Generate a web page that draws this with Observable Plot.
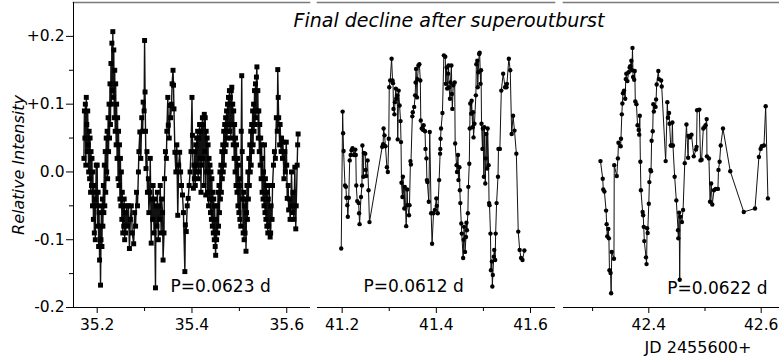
<!DOCTYPE html>
<html><head><meta charset="utf-8">
<script src="https://cdn.jsdelivr.net/npm/d3@7"></script>
<script src="https://cdn.jsdelivr.net/npm/@observablehq/plot@0.6"></script>
<style>
body{margin:0;background:#fff;}
#c{position:relative;width:779px;height:362px;overflow:hidden;font-family:"DejaVu Sans",Verdana,sans-serif;color:#000;}
#c svg{position:absolute;left:0;top:0;background:transparent;}
.t{position:absolute;white-space:nowrap;color:#000;transform:translate(-50%,-50%);}
</style></head><body><div id="c"></div>
<script>
// ---- data (JD - 2455600, relative intensity) ----
const panel1 = [
[35.172,0.02],[35.173,0.09],[35.174,0.05],[35.175,0.10],[35.176,0.01],[35.177,0.11],[35.178,0.07],[35.179,0.03],[35.180,0.09],[35.181,0.04],
[35.182,0.00],[35.183,0.06],[35.184,-0.01],[35.185,0.05],[35.186,-0.03],[35.187,0.03],[35.188,-0.02],[35.189,0.02],[35.190,-0.05],[35.191,0.00],
[35.192,-0.07],[35.193,-0.02],[35.194,-0.09],[35.195,-0.04],[35.196,-0.10],[35.197,-0.03],[35.198,0.01],[35.199,-0.05],[35.200,0.01],[35.201,-0.08],
[35.202,-0.03],[35.203,-0.11],[35.204,-0.06],[35.205,-0.13],[35.206,-0.08],[35.207,-0.167],[35.208,-0.10],[35.209,-0.05],[35.210,-0.11],[35.211,-0.04],
[35.212,-0.08],[35.213,-0.02],[35.214,-0.06],[35.215,0.01],[35.216,-0.05],[35.217,0.03],[35.218,-0.03],[35.219,0.05],[35.220,0.00],[35.221,0.06],
[35.222,-0.01],[35.223,0.08],[35.224,0.03],[35.225,0.10],[35.226,0.05],[35.227,0.13],[35.228,0.07],[35.229,0.16],[35.230,0.10],[35.231,0.19],
[35.232,0.12],[35.233,0.207],[35.234,0.11],[35.235,0.18],[35.236,0.08],[35.237,0.15],[35.238,0.06],[35.239,0.13],[35.240,0.04],[35.241,0.10],
[35.242,0.02],[35.243,0.08],[35.244,-0.01],[35.245,0.06],[35.246,-0.02],[35.247,0.04],[35.248,-0.04],[35.249,0.02],[35.250,-0.05],[35.251,0.00],
[35.252,-0.07],[35.253,-0.03],[35.254,-0.09],[35.255,-0.05],[35.256,-0.08],[35.257,-0.04],[35.258,-0.10],[35.259,-0.06],[35.260,-0.09],[35.262,-0.05],
[35.264,-0.08],[35.266,-0.05],[35.268,-0.113],[35.270,-0.07],[35.272,-0.05],[35.274,-0.09],[35.277,-0.106],[35.279,-0.06],[35.281,-0.08],[35.283,-0.03],
[35.285,-0.05],[35.287,0.00],[35.288,0.03],[35.290,0.059],[35.292,0.02],[35.294,0.08],[35.296,0.06],[35.297,0.103],[35.299,0.09],[35.300,0.194],
[35.301,0.118],[35.302,0.06],[35.303,0.005],[35.305,0.03],[35.306,-0.03],[35.308,-0.01],[35.309,-0.06],[35.311,-0.03],[35.312,0.02],[35.314,-0.105],
[35.315,-0.04],[35.317,-0.07],[35.318,-0.02],[35.320,-0.09],[35.321,-0.04],[35.323,-0.171],[35.324,-0.05],[35.326,-0.08],[35.327,-0.03],[35.329,-0.10],
[35.330,-0.05],[35.332,-0.07],[35.333,-0.02],[35.335,-0.09],[35.336,-0.04],[35.338,-0.06],[35.339,-0.13],[35.341,-0.09],[35.342,-0.01],[35.344,0.03],
[35.346,0.02],[35.347,0.06],[35.349,0.11],[35.350,0.069],[35.352,0.05],[35.354,0.098],[35.355,0.08],[35.357,0.10],[35.358,0.13],[35.360,0.15],
[35.361,0.128],[35.362,0.093],[35.364,0.029],[35.366,0.00],[35.368,0.04],[35.370,-0.064],[35.372,0.01],[35.374,0.029],[35.376,0.00],[35.378,-0.02],
[35.380,-0.034],[35.382,-0.06],[35.385,-0.147],[35.386,-0.078],[35.388,-0.088],[35.390,-0.05],[35.392,-0.039],[35.394,-0.02],[35.396,0.00],[35.398,0.03],
[35.400,0.11],[35.401,0.054],[35.403,-0.024],[35.404,0.01],[35.405,-0.01],[35.406,0.03],[35.407,-0.02],[35.408,0.04],[35.409,0.00],[35.410,0.05],
[35.411,0.01],[35.412,0.06],[35.413,-0.01],[35.414,0.05],[35.415,0.00],[35.416,0.07],[35.417,0.02],[35.418,0.06],[35.419,-0.03],[35.420,0.07],
[35.421,0.01],[35.422,0.08],[35.423,0.02],[35.424,0.07],[35.425,-0.02],[35.426,0.085],[35.427,0.03],[35.428,0.08],[35.429,-0.034],[35.430,0.06],
[35.431,0.00],[35.432,0.05],[35.433,-0.03],[35.434,0.04],[35.435,-0.05],[35.436,0.02],[35.437,-0.04],[35.438,0.01],[35.439,-0.06],[35.440,0.00],
[35.441,-0.07],[35.442,-0.01],[35.443,-0.08],[35.444,-0.03],[35.445,-0.09],[35.446,-0.04],[35.447,-0.10],[35.448,-0.05],[35.449,-0.11],[35.450,-0.123],
[35.451,-0.07],[35.452,-0.10],[35.453,-0.05],[35.454,-0.09],[35.455,-0.03],[35.456,-0.08],[35.457,-0.02],[35.458,-0.06],[35.459,0.00],[35.460,-0.04],
[35.461,0.01],[35.462,-0.03],[35.463,0.03],[35.464,-0.01],[35.465,0.04],[35.466,0.00],[35.467,0.06],[35.468,0.01],[35.469,0.07],[35.470,0.03],
[35.471,0.08],[35.472,0.04],[35.473,0.09],[35.474,0.05],[35.475,0.10],[35.476,0.06],[35.477,0.11],[35.478,0.07],[35.479,0.12],[35.480,0.06],
[35.481,0.11],[35.482,0.05],[35.483,0.12],[35.484,0.125],[35.485,0.07],[35.486,0.10],[35.487,0.04],[35.488,0.09],[35.489,0.02],[35.490,0.07],
[35.491,0.00],[35.492,0.05],[35.493,-0.02],[35.494,0.04],[35.495,-0.03],[35.496,0.02],[35.497,-0.05],[35.498,0.01],[35.499,-0.06],[35.500,-0.01],
[35.501,-0.07],[35.502,-0.02],[35.503,-0.08],[35.504,0.06],[35.505,0.142],[35.506,0.03],[35.507,-0.04],[35.508,-0.09],[35.509,-0.03],[35.510,-0.10],
[35.511,-0.05],[35.512,-0.09],[35.513,-0.04],[35.514,-0.117],[35.515,-0.06],[35.516,-0.02],[35.517,-0.07],[35.518,0.00],[35.519,-0.04],[35.520,0.02],
[35.521,-0.02],[35.522,0.04],[35.523,0.00],[35.524,0.06],[35.525,0.01],[35.526,0.07],[35.527,0.03],[35.528,0.09],[35.529,0.04],[35.530,0.10],
[35.531,0.06],[35.532,0.12],[35.533,0.07],[35.534,0.13],[35.535,0.08],[35.536,0.14],[35.537,0.155],[35.538,0.09],[35.539,0.12],[35.540,0.05],
[35.541,0.09],[35.542,0.03],[35.543,0.07],[35.544,0.01],[35.545,0.05],[35.546,-0.01],[35.547,0.04],[35.548,-0.03],[35.549,0.02],[35.550,-0.04],
[35.551,0.00],[35.552,-0.05],[35.553,0.04],[35.554,-0.06],[35.555,-0.01],[35.556,-0.07],[35.557,-0.02],[35.558,-0.08],[35.559,-0.03],[35.560,-0.09],
[35.561,-0.04],[35.562,-0.08],[35.563,-0.02],[35.565,-0.096],[35.566,-0.09],[35.567,-0.05],[35.569,-0.07],[35.570,-0.02],[35.572,0.01],[35.574,0.03],
[35.576,0.02],[35.578,0.08],[35.580,0.06],[35.581,0.151],[35.582,0.11],[35.583,0.08],[35.585,0.04],[35.586,0.07],[35.588,0.03],[35.589,0.05],
[35.591,0.02],[35.592,0.044],[35.594,-0.01],[35.596,0.03],[35.597,0.00],[35.599,0.044],[35.600,0.01],[35.601,-0.039],[35.603,-0.02],[35.604,-0.056],
[35.606,-0.04],[35.607,-0.07],[35.609,-0.05],[35.610,0.00],[35.612,-0.06],[35.613,-0.03],[35.615,-0.07],[35.617,0.007],[35.619,-0.084],[35.620,-0.05],
[35.622,0.01],[35.623,0.04],[35.624,0.056]
];
const panel2 = [
[41.198,-0.113],[41.201,0.089],[41.202,0.057],[41.203,0.031],[41.206,-0.020],[41.208,-0.022],[41.209,-0.038],[41.211,-0.049],[41.212,-0.066],[41.214,-0.038],
[41.216,0.017],[41.218,0.025],[41.220,0.032],[41.222,0.035],[41.225,0.025],[41.228,0.033],[41.229,0.025],[41.230,-0.020],[41.232,-0.043],[41.235,-0.046],
[41.236,-0.061],[41.237,-0.077],[41.240,-0.037],[41.242,-0.020],[41.243,0.039],[41.245,-0.007],[41.246,0.028],[41.249,0.027],[41.250,0.003],[41.251,-0.006],
[41.254,0.017],[41.256,-0.027],[41.258,-0.074],[41.285,0.037],[41.287,0.041],[41.288,0.064],[41.290,0.054],[41.292,0.038],[41.295,0.007],[41.297,0.000],
[41.299,0.049],[41.300,0.125],[41.302,0.135],[41.305,0.167],[41.307,0.135],[41.308,0.131],[41.309,0.093],[41.311,0.085],[41.312,0.103],[41.314,0.123],
[41.315,0.108],[41.317,0.113],[41.318,0.048],[41.320,0.120],[41.322,0.098],[41.324,0.075],[41.325,0.044],[41.326,-0.016],[41.328,-0.037],[41.329,-0.007],
[41.332,-0.054],[41.333,-0.022],[41.336,-0.080],[41.338,-0.026],[41.339,-0.049],[41.342,-0.064],[41.343,-0.049],[41.345,0.016],[41.346,0.011],[41.349,0.082],
[41.350,0.088],[41.353,0.096],[41.355,0.113],[41.356,0.132],[41.357,0.152],[41.359,0.110],[41.360,0.137],[41.362,0.157],[41.364,0.159],[41.366,0.135],
[41.367,0.076],[41.369,0.064],[41.372,0.062],[41.373,0.069],[41.376,0.060],[41.377,0.034],[41.379,0.020],[41.380,-0.012],[41.381,-0.015],[41.384,-0.044],
[41.386,0.059],[41.389,-0.061],[41.391,-0.106],[41.394,-0.061],[41.397,-0.056],[41.400,-0.039],[41.401,-0.050],[41.403,-0.061],[41.406,-0.012],[41.408,0.027],
[41.4085,0.034],[41.409,0.049],[41.410,0.064],[41.413,0.087],[41.416,0.172],[41.419,0.170],[41.420,0.130],[41.422,0.154],[41.423,0.123],[41.425,0.145],
[41.426,0.157],[41.427,0.125],[41.429,0.108],[41.430,0.132],[41.432,0.157],[41.433,0.115],[41.434,0.093],[41.436,0.128],[41.439,0.132],[41.440,0.042],
[41.443,0.010],[41.444,0.000],[41.446,0.025],[41.447,-0.012],[41.449,0.007],[41.450,-0.027],[41.451,-0.046],[41.453,-0.076],[41.454,-0.091],[41.457,-0.127],
[41.458,-0.100],[41.459,-0.081],[41.461,-0.118],[41.463,-0.096],[41.464,-0.075],[41.465,-0.086],[41.467,-0.061],[41.468,-0.022],[41.470,0.012],[41.471,0.064],
[41.472,0.101],[41.474,0.086],[41.475,0.105],[41.477,0.066],[41.478,0.088],[41.479,0.051],[41.481,0.071],[41.484,0.113],[41.485,0.159],[41.487,0.164],
[41.488,0.125],[41.489,0.147],[41.491,0.174],[41.492,0.176],[41.494,0.130],[41.495,0.150],[41.496,0.071],[41.498,0.034],[41.499,0.064],[41.501,-0.007],
[41.502,0.066],[41.504,-0.017],[41.505,0.020],[41.506,0.056],[41.508,0.005],[41.509,0.064],[41.511,0.010],[41.512,-0.046],[41.513,-0.049],[41.515,-0.091],
[41.516,-0.145],[41.518,-0.132],[41.519,-0.169],[41.520,-0.152],[41.522,-0.125],[41.523,-0.115],[41.525,-0.130],[41.526,-0.091],[41.528,-0.046],[41.531,-0.007],
[41.532,0.034],[41.535,0.034],[41.538,0.120],[41.542,0.145],[41.546,0.125],[41.549,0.125],[41.550,0.130],[41.554,0.167],[41.557,0.150],[41.560,0.056],
[41.563,0.083],[41.566,0.061],[41.570,0.027],[41.574,-0.088],[41.577,-0.115],[41.580,-0.127],[41.583,-0.130],[41.587,-0.116]
];
const panel3 = [
[42.314,0.016],[42.318,-0.010],[42.319,-0.026],[42.321,-0.029],[42.324,-0.057],[42.325,-0.077],[42.326,-0.095],[42.328,-0.084],[42.329,-0.098],[42.330,-0.145],
[42.332,-0.149],[42.333,-0.179],[42.334,-0.118],[42.338,-0.128],[42.3385,0.010],[42.343,-0.006],[42.345,0.020],[42.346,0.043],[42.350,0.038],[42.3505,0.049],
[42.352,0.085],[42.353,0.101],[42.354,0.116],[42.356,0.120],[42.358,0.108],[42.359,0.137],[42.360,0.145],[42.362,0.134],[42.364,0.147],[42.366,0.154],
[42.367,0.156],[42.369,0.164],[42.370,0.150],[42.371,0.183],[42.372,0.140],[42.374,0.136],[42.375,0.149],[42.376,0.104],[42.378,0.100],[42.380,0.069],
[42.382,0.062],[42.383,0.055],[42.384,0.083],[42.385,0.015],[42.386,-0.027],[42.389,-0.059],[42.390,-0.064],[42.391,-0.081],[42.392,-0.102],[42.395,-0.126],
[42.396,-0.136],[42.397,-0.083],[42.398,-0.090],[42.400,-0.047],[42.401,-0.015],[42.403,0.003],[42.404,0.001],[42.405,0.046],[42.407,0.060],[42.408,0.100],
[42.409,0.089],[42.412,0.096],[42.413,0.107],[42.414,0.129],[42.417,0.149],[42.418,0.137],[42.422,0.135],[42.423,0.126],[42.430,0.016],[42.433,0.103],
[42.434,0.080],[42.436,0.087],[42.437,0.071],[42.439,0.039],[42.441,0.039],[42.442,0.073],[42.443,0.039],[42.446,-0.007],[42.449,-0.042],[42.452,-0.086],
[42.4525,-0.098],[42.454,-0.060],[42.455,-0.159],[42.456,-0.066],[42.459,-0.074],[42.461,-0.056],[42.464,0.013],[42.467,0.070],[42.470,0.021],[42.4705,0.053],
[42.473,0.051],[42.476,0.055],[42.480,0.023],[42.484,0.033],[42.485,0.037],[42.486,0.091],[42.490,0.092],[42.492,0.017],[42.494,0.018],[42.497,0.064],
[42.499,0.066],[42.501,0.069],[42.503,0.078],[42.5035,0.023],[42.507,0.020],[42.509,-0.044],[42.511,-0.017],[42.513,-0.048],[42.516,-0.027],[42.519,-0.025],
[42.523,-0.025],[42.524,0.003],[42.526,0.015],[42.528,0.039],[42.532,0.064],[42.545,0.001],[42.569,-0.059],[42.589,-0.054],[42.596,0.022],[42.599,0.034],
[42.601,0.038],[42.605,0.039],[42.608,0.097],[42.612,-0.039]
];
const periods = ["P=0.0623 d", "P=0.0612 d", "P=0.0622 d"];
const xTicks = [[35.2, 35.4, 35.6], [41.2, 41.4, 41.6], [42.4, 42.6]];
const xMinor = [[35.3, 35.5], [41.3, 41.5], [42.3, 42.5]];
const yTicks = [0.2, 0.1, 0, -0.1, -0.2];
const yTickLabels = ["+0.2", "+0.1", "0.0", "-0.1", "-0.2"];
const yMinor = [0.15, 0.05, -0.05, -0.15];
const titleText = "Final decline after superoutburst";
const yLabel = "Relative Intensity";
const xLabel = "JD 2455600+";

// ---- layout ----
const W = 779, H = 362;
const panels = [
  {data: panel1, symbol: "square", r: 2.8, lw: 1.4, domain: [35.150, 35.648], left: 73, right: 309,
   textAnchor: "start", frameAnchor: "bottom-left", dx: 97, dy: -21},
  {data: panel2, symbol: "circle", r: 2.2, lw: 1, domain: [41.1476, 41.651], left: 317, right: 554,
   textAnchor: "start", frameAnchor: "bottom-left", dx: 46, dy: -21},
  {data: panel3, symbol: "circle", r: 2.2, lw: 1, domain: [42.2482, 42.6326], left: 563, right: 779,
   textAnchor: "end", frameAnchor: "bottom-right", dx: -12, dy: -19}
];

const c = document.getElementById("c");
panels.forEach((p, i) => {
  const marks = [
    Plot.frame({anchor: "top", stroke: "#7a7a7a", strokeWidth: 1.6}),
    Plot.frame({anchor: "bottom", stroke: "#000"}),
    Plot.axisX(xTicks[i], {tickSize: 6, tickPadding: 5, fontSize: 15.5, tickFormat: d => d.toFixed(1), label: null}),
    Plot.axisX(xMinor[i], {tickSize: 4, tickFormat: () => "", label: null}),
    Plot.line(p.data, {x: d => d[0], y: d => d[1], stroke: "#111", strokeWidth: p.lw}),
    Plot.dot(p.data, {x: d => d[0], y: d => d[1], symbol: p.symbol, r: p.r, fill: "#000", stroke: "none"}),
    Plot.text([periods[i]], {text: d => d, frameAnchor: p.frameAnchor, textAnchor: p.textAnchor,
      lineAnchor: "middle", dx: p.dx, dy: p.dy, fontSize: 17, fill: "#000"})
  ];
  if (i === 0) {
    marks.push(
      Plot.frame({anchor: "left", stroke: "#000"}),
      Plot.axisY(yTicks, {tickSize: 7, tickPadding: 2, fontSize: 15.5,
        tickFormat: d => yTickLabels[yTicks.indexOf(d)], label: null}),
      Plot.axisY(yMinor, {tickSize: 4, tickFormat: () => "", label: null})
    );
  }
  const svg = Plot.plot({
    width: W, height: H,
    marginLeft: p.left, marginRight: W - p.right, marginTop: 2, marginBottom: 55,
    x: {domain: p.domain},
    y: {domain: [-0.2, 0.25], axis: i === 0 ? undefined : null},
    style: {fontFamily: "DejaVu Sans, Verdana, sans-serif", color: "#000", background: "transparent", overflow: "visible"},
    marks
  });
  c.appendChild(svg);
});

function addText(txt, x, y, css) {
  const d = document.createElement("div");
  d.className = "t";
  d.textContent = txt;
  d.style.left = x + "px";
  d.style.top = y + "px";
  Object.assign(d.style, css);
  c.appendChild(d);
}
addText(titleText, 449, 20, {fontSize: "19px", fontStyle: "italic"});
addText(xLabel, 698, 347, {fontSize: "16px"});
addText(yLabel, 18, 165, {fontSize: "16px", fontStyle: "italic", transform: "translate(-50%,-50%) rotate(-90deg)"});
</script></body></html>
